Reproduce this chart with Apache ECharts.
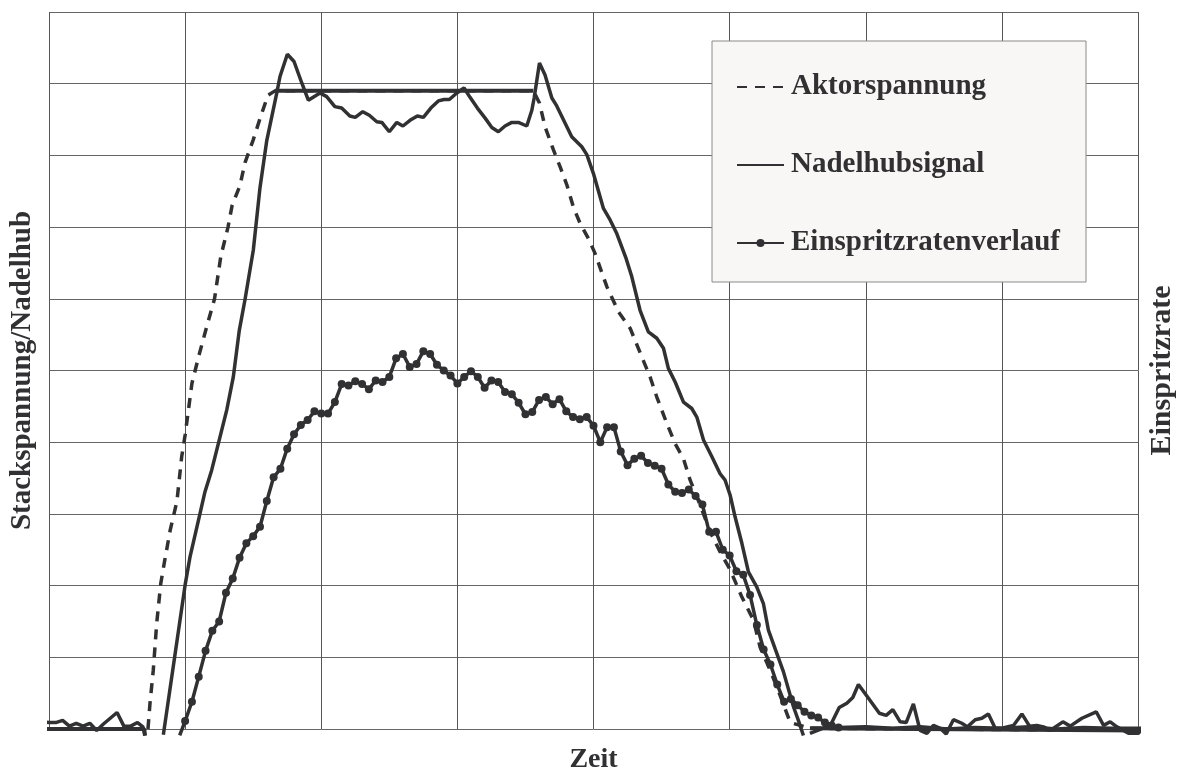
<!DOCTYPE html>
<html lang="de">
<head>
    <meta charset="UTF-8">
    <title>Einspritzverlauf</title>
    <script src="https://cdn.jsdelivr.net/npm/echarts@6/dist/echarts.min.js"></script>
    <style>
        body { margin: 0; background: #fff; }
    </style>
</head>
<body>
    <div id="chart" style="width: 1180px; height: 772px;"></div>
    <script>
        // time base: one grid cell = 10 units, values in % of axis height
        var legendNames = ['Aktorspannung', 'Nadelhubsignal', 'Einspritzratenverlauf']

        // Aktorspannung, dashed ramps
        var aktorRamp = [
            [-0.5, 0], [7.0, 0], [7.05, -0.9], [7.15, '-'], [7.27, 0],
            [7.42, 3.6], [7.66, 8.2], [7.91, 14.7], [8.21, 20.3], [8.5, 23.5], [8.9, 27.7],
            [9.4, 31.8], [9.75, 38.0], [10.0, 41.0], [10.5, 48.2], [11.0, 52.0], [11.57, 56.0],
            [12.16, 60.0], [12.62, 65.9], [13.15, 70.0], [13.45, 73.0], [14.03, 75.8], [14.4, 79.0],
            [14.99, 82.1], [15.58, 85.6], [16.09, 88.4], [16.6, 89.0], [35.58, 89.0],
            [36.03, 87.3], [36.44, 84.0], [37.05, 80.8], [37.55, 78.4], [38.04, 75.9], [38.52, 72.8],
            [39.02, 70.5], [39.63, 68.4], [40.12, 66.3], [40.98, 61.7], [41.83, 58.2], [42.69, 55.9],
            [43.55, 51.9], [44.16, 49.1], [44.65, 46.3], [45.39, 42.6], [46.0, 39.8], [46.61, 37.7],
            [47.1, 34.7], [47.84, 31.2], [48.57, 27.5], [49.3, 24.7], [50.04, 22.2], [50.9, 18.4],
            [51.75, 15.2], [52.24, 11.4], [52.98, 8.2], [53.71, 4.7], [54.45, 0.9], [55.18, 0.5],
            [55.9, 0.1], [80.5, -0.2]
        ]
        // Aktorspannung, flat parts (drawn solid like in the original)
        var aktorFlat = [
            [-0.5, 0], [7.0, 0], [7.05, -0.9], [7.15, '-'],
            [16.6, 89.0], [35.58, 89.0], [35.7, '-'],
            [55.9, 0.1], [80.5, -0.2]
        ]

        var nadelhub = [
            [-0.5, 1.0], [0, 0.9], [0.5, 0.9], [1, 1.2], [1.5, 0.4], [2, 0.8], [2.5, 0.4], [3, 0.8],
            [3.5, -0.2], [4, 0.7], [4.5, 1.5], [5, 2.3], [5.5, 0.4], [6, 0.4], [6.5, 0.9], [6.9, 0.3],
            [7.05, -0.9], [7.5, '-'],
            [8.4, -0.8], [10.0, 20.1], [10.36, 24.0], [11.1, 30.1], [11.46, 33.1], [11.95, 36.1],
            [12.44, 39.8], [13.06, 44.5], [13.54, 49.1], [13.98, 55.6], [14.4, 59.9], [15.01, 66.8],
            [15.5, 75.5], [16.0, 82.1], [16.73, 88.7], [16.97, 91.0], [17.51, 94.1], [18.0, 93.1],
            [18.57, 90.1], [19.05, 87.7], [19.91, 88.7], [20.4, 88.2], [21.0, 86.8], [21.5, 86.6],
            [22.1, 85.5], [22.5, 85.3], [23.05, 86.1], [23.53, 85.6], [24.08, 84.7], [24.45, 84.6],
            [25.0, 83.3], [25.55, 84.6], [26.0, 84.1], [26.52, 84.9], [27.06, 85.5], [27.5, 85.3],
            [28.05, 86.6], [28.6, 87.6], [29.02, 87.8], [29.41, 87.8], [29.96, 88.7], [30.49, 89.4],
            [30.93, 88.1], [31.47, 86.6], [32.04, 85.2], [32.53, 83.9], [33.01, 83.3], [33.5, 84.1],
            [34.0, 84.6], [34.48, 84.6], [35.1, 84.1], [35.47, 86.3], [35.64, 88.0], [36.03, 92.9],
            [36.44, 91.2], [36.94, 88.0], [37.3, 86.9], [38.4, 82.6], [39.14, 81.2], [39.51, 80.1],
            [39.99, 77.5], [40.73, 72.6], [41.22, 71.0], [41.71, 69.1], [42.4, 65.6], [42.81, 63.1],
            [43.42, 58.4], [44.03, 55.4], [44.65, 54.5], [45.14, 53.1], [45.5, 50.3], [46.0, 48.4],
            [46.61, 45.6], [47.22, 44.7], [47.59, 43.5], [48.08, 40.3], [48.69, 38.0], [49.3, 35.6],
            [49.67, 34.7], [50.04, 32.6], [50.4, 29.6], [50.9, 25.9], [51.38, 21.9], [52.0, 19.8],
            [52.48, 17.5], [52.85, 13.8], [53.34, 11.2], [53.95, 8.0], [54.45, 4.7], [54.69, 3.1],
            [55.05, 1.2], [55.42, -0.9], [55.6, '-'],
            [55.9, -0.6], [57.4, 0.5], [58.05, 3.0], [58.61, 3.6], [59.05, 4.4], [59.46, 6.2],
            [60.12, 4.5], [61.0, 2.2], [61.5, 1.9], [61.99, 2.7], [62.53, 1.0], [62.97, 0.9],
            [63.5, 3.5], [63.99, -0.2], [64.49, -0.6], [64.97, 0.5], [65.47, 0.1], [65.91, -0.7],
            [66.44, 1.3], [67.06, 0.8], [67.47, 0.3], [68.04, 1.3], [68.53, 1.5], [69.01, 2.1],
            [69.51, 0.1], [70.0, 0.1], [70.85, 0.5], [71.47, 2.1], [72.03, 0.4], [72.57, 0.5],
            [73.06, 0.3], [73.55, -0.2], [74.48, 1.0], [75.02, 0.4], [75.88, 1.5], [76.93, 2.4],
            [77.47, 0.5], [77.96, 1.0], [78.45, 0.3], [79.3, -0.6], [80.04, -0.6], [80.46, 0.6]
        ]

        var einspritzrate = [
            [10, 1.1], [10.5, 3.8], [11, 7.3], [11.5, 10.9], [12, 13.7], [12.5, 15.0], [13, 19.0],
            [13.5, 21.0], [14, 23.9], [14.5, 25.9], [15, 26.9], [15.5, 28.2], [16, 31.8], [16.5, 35.1],
            [17, 36.3], [17.5, 39.1], [18, 41.1], [18.5, 42.4], [19, 43.1], [19.5, 44.3], [20, 44.0],
            [20.5, 44.0], [21, 45.6], [21.5, 48.1], [22, 47.9], [22.5, 48.5], [23, 48.1], [23.5, 47.4],
            [24, 48.6], [24.5, 48.4], [25, 49.1], [25.5, 51.7], [26, 52.3], [26.5, 50.5], [27, 50.9],
            [27.5, 52.7], [28, 52.3], [28.5, 50.8], [29, 50.0], [29.5, 49.3], [30, 48.2], [30.5, 49.1],
            [31, 49.9], [31.5, 49.1], [32, 47.6], [32.5, 48.6], [33, 48.4], [33.5, 47.0], [34, 46.7],
            [34.5, 45.5], [35, 43.9], [35.5, 44.2], [36, 45.9], [36.5, 46.3], [37, 45.3], [37.5, 46.0],
            [38, 44.3], [38.5, 43.5], [39, 43.2], [39.5, 43.5], [40, 42.3], [40.5, 40.0], [41, 42.1],
            [41.5, 42.1], [42, 38.7], [42.5, 36.8], [43, 37.7], [43.5, 38.1], [44, 37.1], [44.5, 36.7],
            [45, 36.3], [45.5, 34.1], [46, 33.1], [46.5, 32.9], [47, 33.4], [47.5, 32.5], [48, 31.3],
            [48.5, 27.5], [49, 27.5], [49.5, 25.0], [50, 24.2], [50.5, 22.0], [51, 21.5], [51.5, 18.7],
            [52, 14.5], [52.5, 11.1], [53, 9.0], [53.5, 6.2], [54, 3.8], [54.5, 4.2], [55, 3.3],
            [55.5, 2.4], [56, 1.9], [56.5, 1.6], [57, 0.9], [57.5, 0.5], [58, 0.2]
        ]
        // start below the axis and the quiet tail, drawn without markers
        var einspritzStart = [[9.6, -0.9], [10, 1.1]]
        var einspritzTail = [
            [58, 0.2], [60, 0.3], [62, 0.1], [64, 0.3], [66, 0.0], [68, 0.2], [70, 0.1],
            [72, 0.3], [74, 0.0], [76, 0.2], [78, 0.1], [80.5, 0.1]
        ]

        var ink = '#313133'
        var font = 'Liberation Serif'
        var nameStyle = { fontFamily: font, fontWeight: 'bold', fontSize: 29, color: ink }

        var chart = echarts.init(document.getElementById('chart'))
        var option = {
            animation: false,
            backgroundColor: '#fff',
            grid: { left: 49, right: 42, top: 12, bottom: 43, outerBoundsMode: 'none', containLabel: false },
            legend: {
                data: [
                    { name: legendNames[0], itemStyle: { opacity: 0 } },
                    { name: legendNames[1], itemStyle: { opacity: 0 } },
                    { name: legendNames[2] }
                ],
                orient: 'vertical',
                left: 712,
                top: 41,
                backgroundColor: '#f8f7f5',
                borderColor: '#8a8a8a',
                borderWidth: 1,
                padding: [29, 26, 22, 24],
                itemGap: 44,
                itemWidth: 47,
                itemHeight: 10,
                textStyle: {
                    fontFamily: font,
                    fontWeight: 'bold',
                    fontSize: 29,
                    color: ink,
                    lineHeight: 34,
                    padding: [0, 0, 0, 2]
                }
            },
            xAxis: {
                type: 'value',
                min: 0,
                max: 80,
                interval: 10,
                name: 'Zeit',
                nameLocation: 'middle',
                nameGap: 17,
                nameTextStyle: { fontFamily: font, fontWeight: 'bold', fontSize: 28, color: ink },
                axisLine: { show: false },
                axisTick: { show: false },
                axisLabel: { show: false },
                splitLine: { show: true, lineStyle: { color: '#555', width: 1 } }
            },
            yAxis: [{
                type: 'value',
                min: 0,
                max: 100,
                interval: 10,
                position: 'left',
                name: 'Stackspannung/Nadelhub',
                nameLocation: 'middle',
                nameRotate: 90,
                nameGap: 12,
                nameTextStyle: nameStyle,
                axisLine: { show: false },
                axisTick: { show: false },
                axisLabel: { show: false },
                splitLine: { show: true, lineStyle: { color: '#666', width: 1 } }
            }, {
                type: 'value',
                min: 0,
                max: 100,
                interval: 10,
                position: 'right',
                name: 'Einspritzrate',
                nameLocation: 'middle',
                nameRotate: 90,
                nameGap: 9,
                nameTextStyle: { fontFamily: font, fontWeight: 'bold', fontSize: 30, color: ink },
                axisLine: { show: false },
                axisTick: { show: false },
                axisLabel: { show: false },
                splitLine: { show: false }
            }],
            series: [{
                name: 'Aktorspannung',
                type: 'line',
                data: aktorRamp,
                symbol: 'none',
                clip: false,
                connectNulls: false,
                itemStyle: { color: ink },
                lineStyle: { color: ink, width: 3.5, type: [10, 8] },
                z: 2
            }, {
                name: 'aktorFlat',
                type: 'line',
                data: aktorFlat,
                symbol: 'none',
                clip: false,
                connectNulls: false,
                lineStyle: { color: ink, width: 4 },
                silent: true,
                z: 2
            }, {
                name: 'Nadelhubsignal',
                type: 'line',
                data: nadelhub,
                symbol: 'none',
                clip: false,
                connectNulls: false,
                itemStyle: { color: ink },
                lineStyle: { color: ink, width: 3.5 },
                z: 3
            }, {
                name: 'einspritzStart',
                type: 'line',
                data: einspritzStart,
                symbol: 'none',
                clip: false,
                lineStyle: { color: ink, width: 3.5 },
                silent: true,
                z: 4
            }, {
                name: 'einspritzTail',
                type: 'line',
                data: einspritzTail,
                symbol: 'none',
                clip: false,
                lineStyle: { color: ink, width: 3.5 },
                silent: true,
                z: 4
            }, {
                name: 'Einspritzratenverlauf',
                type: 'line',
                yAxisIndex: 1,
                data: einspritzrate,
                symbol: 'circle',
                symbolSize: 8,
                showSymbol: true,
                clip: false,
                itemStyle: { color: ink },
                lineStyle: { color: ink, width: 3.5 },
                z: 5
            }]
        }
        chart.setOption(option)
    </script>
</body>
</html>
